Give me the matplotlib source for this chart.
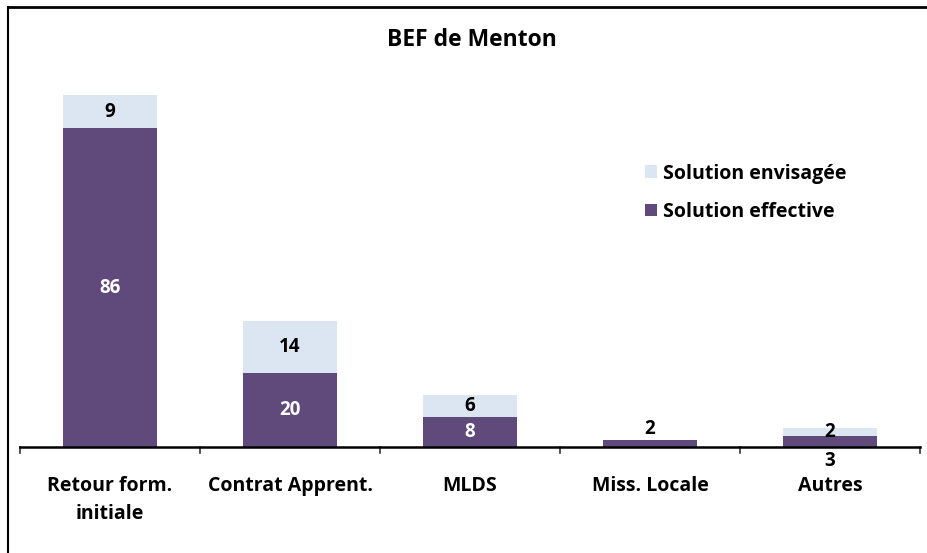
import matplotlib
matplotlib.use("Agg")
import matplotlib.pyplot as plt
from matplotlib.lines import Line2D
from matplotlib.patches import Patch

categories = ["Retour form.\ninitiale", "Contrat Apprent.", "MLDS", "Miss. Locale", "Autres"]
effective = [86, 20, 8, 2, 3]
envisagee = [9, 14, 6, 0, 2]

dark = "#604A7B"
light = "#DCE6F2"
plt.rcParams['font.family'] = ['Open Sans', 'DejaVu Sans']
plt.rcParams['font.weight'] = 'bold'

W, H = 928, 553
fig = plt.figure(figsize=(W/100, H/100), dpi=100)
base = 447
top = 20
px_per_unit = (447 - 95) / 95.0
ymax = (base - top) / px_per_unit
ax = fig.add_axes([20/W, (H-base)/H, 900/W, (base-top)/H])
ax.set_xlim(-0.5, len(categories) - 0.5)
ax.set_ylim(0, ymax)
x = list(range(len(categories)))
bw = 0.52
ax.bar(x, effective, width=bw, color=dark, zorder=2)
ax.bar(x, envisagee, width=bw, bottom=effective, color=light, zorder=2)

fs = 13.5
for i in x:
    e, v = effective[i], envisagee[i]
    if e >= 5:
        ax.text(i, e/2, str(e), ha='center', va='center', color='white', fontsize=fs, fontweight='bold')
    if v > 0:
        ax.text(i, e + v/2, str(v), ha='center', va='center', color='black', fontsize=fs, fontweight='bold')
ax.text(3, effective[3] + 2.9, str(effective[3]), ha='center', va='center', color='black', fontsize=fs, fontweight='bold')
ax.text(4, -3.8, str(effective[4]), ha='center', va='center', color='black', fontsize=fs, fontweight='bold')

for s in ['top', 'right', 'left']:
    ax.spines[s].set_visible(False)
ax.spines['bottom'].set_linewidth(1.8)
ax.set_yticks([])
ax.set_xticks([])
for b in [-0.5 + k for k in range(len(categories) + 1)]:
    ax.plot([b, b], [0, -6/px_per_unit], color='#333333', lw=1.2, clip_on=False)
for i, c in enumerate(categories):
    ax.text(i, -29/px_per_unit, c, ha='center', va='top', fontsize=14, fontweight='bold', linespacing=1.55)

fig.text(472/W, 1 - 40/H, "BEF de Menton", ha='center', va='center', fontsize=16.5, fontweight='bold')

handles = [Patch(facecolor=light, edgecolor='none'), Patch(facecolor=dark, edgecolor='none')]
fig.legend(handles, ["Solution envisagée", "Solution effective"], loc='upper left',
           bbox_to_anchor=(628/W, 1 - 146/H), frameon=False,
           handlelength=0.6, handleheight=0.6, handletextpad=0.3, labelspacing=0.95,
           prop={'weight': 'bold', 'size': 14})

fig.add_artist(Line2D([8/W, 8/W], [0, 1 - 7/H], color='black', lw=1.5))
fig.add_artist(Line2D([8/W, 1], [1 - 7/H, 1 - 7/H], color='black', lw=2))

fig.savefig("out.png", dpi=100)
